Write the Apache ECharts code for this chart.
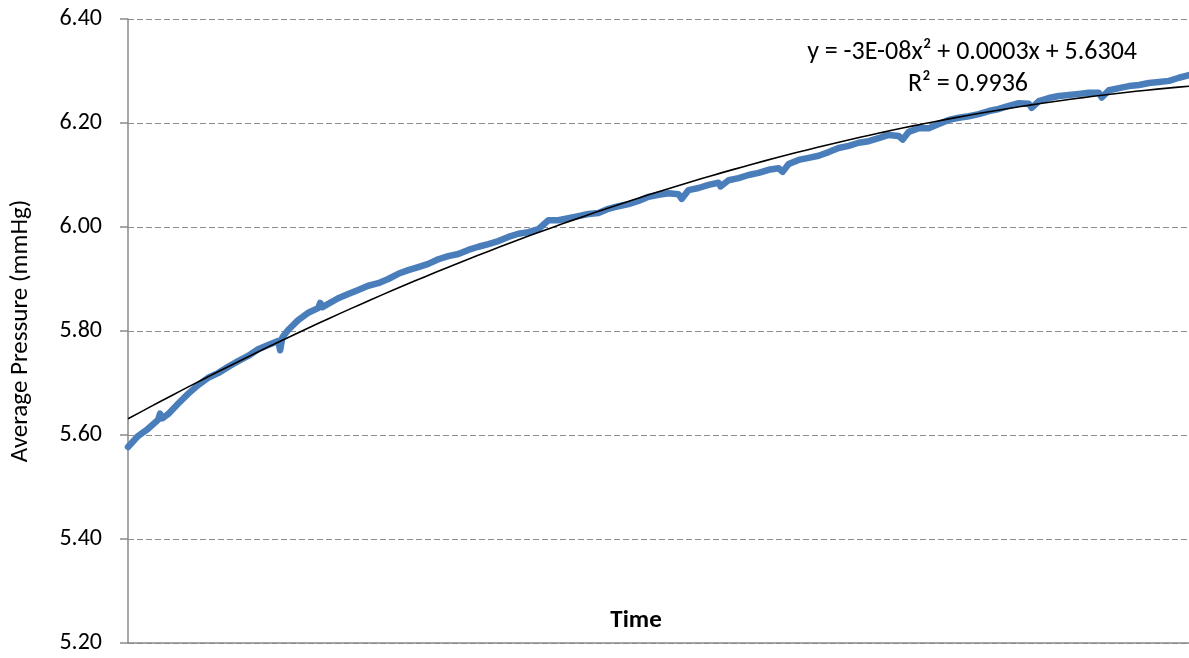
<!DOCTYPE html>
<html>
<head>
<meta charset="utf-8">
<script src="https://cdn.jsdelivr.net/npm/echarts@6/dist/echarts.min.js"></script>
<style>
  html, body { margin: 0; padding: 0; background: #fff; }
  #chart { width: 1189px; height: 658px; }
</style>
</head>
<body>
<div id="chart"></div>
<script>
// Elapsed time of each sample (arbitrary time units)
const times = [
  0, 35, 70, 105, 112, 120, 140, 175, 210, 245, 280, 315, 350, 385, 420, 455, 490, 525, 532, 540, 560, 595,
  630, 665, 672, 680, 700, 735, 770, 805, 840, 875, 910, 945, 980, 1015, 1050, 1085,
  1120, 1155, 1190, 1225, 1260, 1295, 1330, 1365, 1400, 1435, 1470, 1505, 1540, 1575,
  1610, 1645, 1680, 1715, 1750, 1785, 1820, 1855, 1890, 1925, 1936, 1960, 1995, 2030, 2065, 2072,
  2100, 2135, 2170, 2205, 2240, 2275, 2289, 2310, 2345, 2380, 2415, 2450, 2485, 2520,
  2555, 2590, 2625, 2660, 2695, 2709, 2730, 2765, 2800, 2835, 2870, 2905, 2940, 2975,
  3010, 3045, 3080, 3115, 3150, 3160, 3185, 3220, 3255, 3290, 3325, 3360, 3395, 3405,
  3430, 3465, 3500, 3535, 3570, 3605, 3640, 3675, 3710
];

// Average pressure at each sample (mmHg)
const pressure = [
  5.577, 5.598, 5.612, 5.629, 5.641, 5.632, 5.640, 5.660, 5.679, 5.696, 5.710, 5.719, 5.731, 5.742, 5.752, 5.765, 5.773, 5.781, 5.763, 5.788, 5.802, 5.821,
  5.835, 5.844, 5.854, 5.846, 5.852, 5.863, 5.871, 5.879, 5.887, 5.892, 5.900, 5.910, 5.917, 5.923, 5.929, 5.938,
  5.944, 5.948, 5.956, 5.962, 5.967, 5.973, 5.981, 5.987, 5.990, 5.996, 6.013, 6.013, 6.017, 6.021,
  6.025, 6.027, 6.035, 6.040, 6.044, 6.050, 6.058, 6.062, 6.065, 6.063, 6.054, 6.071, 6.075, 6.081, 6.085, 6.078,
  6.090, 6.094, 6.100, 6.104, 6.110, 6.113, 6.106, 6.121, 6.129, 6.133, 6.137, 6.144, 6.152, 6.156,
  6.162, 6.165, 6.171, 6.177, 6.175, 6.168, 6.183, 6.190, 6.190, 6.198, 6.206, 6.210, 6.213, 6.217,
  6.223, 6.227, 6.233, 6.238, 6.237, 6.229, 6.242, 6.248, 6.252, 6.254, 6.256, 6.258, 6.258, 6.249,
  6.263, 6.267, 6.271, 6.273, 6.277, 6.279, 6.281, 6.287, 6.292
];

// Y-axis ticks
const yTicks = [5.20, 5.40, 5.60, 5.80, 6.00, 6.20, 6.40];

const equationText = 'y = -3E-08x\u00B2 + 0.0003x + 5.6304';
const rSquaredText = 'R\u00B2 = 0.9936';
const xTitle = 'Time';
const yTitle = 'Average Pressure (mmHg)';

// Least-squares quadratic fit of pressure against time (polynomial trendline)
function quadFit(xs, ys) {
  const n = xs.length;
  const s = [0, 0, 0, 0, 0], t = [0, 0, 0];
  for (let i = 0; i < n; i++) {
    const x = xs[i], y = ys[i];
    let p = 1;
    for (let k = 0; k < 5; k++) { s[k] += p; if (k < 3) t[k] += p * y; p *= x; }
  }
  const M = [[s[0], s[1], s[2], t[0]], [s[1], s[2], s[3], t[1]], [s[2], s[3], s[4], t[2]]];
  for (let i = 0; i < 3; i++) {
    for (let j = i + 1; j < 3; j++) {
      const f = M[j][i] / M[i][i];
      for (let k = i; k < 4; k++) M[j][k] -= f * M[i][k];
    }
  }
  const r = [0, 0, 0];
  for (let i = 2; i >= 0; i--) {
    let v = M[i][3];
    for (let k = i + 1; k < 3; k++) v -= M[i][k] * r[k];
    r[i] = v / M[i][i];
  }
  return r; // [c, b, a]
}

const [c0, c1, c2] = quadFit(times, pressure);
const xMax = times[times.length - 1];
const trend = [];
for (let i = 0; i <= 100; i++) {
  const x = xMax * i / 100;
  trend.push([x, c0 + c1 * x + c2 * x * x]);
}

const FONT = 'Carlito, Lato, "Open Sans", sans-serif';
const chart = echarts.init(document.getElementById('chart'), null, { renderer: 'canvas' });

chart.setOption({
  animation: false,
  backgroundColor: '#ffffff',
  grid: { left: 128, right: 0, top: 19, bottom: 15, containLabel: false },
  xAxis: {
    type: 'value',
    min: 0,
    max: xMax,
    axisLabel: { show: false },
    axisTick: { show: false },
    splitLine: { show: false },
    axisLine: { show: true, lineStyle: { color: '#8a8a8a', width: 1.5 } }
  },
  yAxis: {
    type: 'value',
    min: yTicks[0],
    max: yTicks[yTicks.length - 1],
    interval: 0.2,
    axisLine: { show: true, lineStyle: { color: '#8a8a8a', width: 1.5 } },
    axisTick: { show: true, inside: false, length: 8, lineStyle: { color: '#8a8a8a', width: 1.5 } },
    axisLabel: {
      margin: 26,
      color: '#000',
      fontFamily: FONT,
      fontSize: 24,
      formatter: v => v.toFixed(2)
    },
    splitLine: { show: true, lineStyle: { color: '#8c8c8c', width: 1.2, type: [6, 3] } }
  },
  graphic: [
    {
      type: 'text', x: 636, y: 621,
      style: { text: xTitle, font: 'bold 25px ' + FONT, fill: '#000', textAlign: 'center', textVerticalAlign: 'middle' }
    },
    {
      type: 'text', x: 21, y: 331, rotation: Math.PI / 2,
      style: { text: yTitle, font: '25px ' + FONT, fill: '#000', textAlign: 'center', textVerticalAlign: 'middle' }
    },
    {
      type: 'text', x: 1137, y: 52,
      style: { text: equationText, font: '26px ' + FONT, fill: '#000', textAlign: 'right', textVerticalAlign: 'middle' }
    },
    {
      type: 'text', x: 968, y: 84,
      style: { text: rSquaredText, font: '26px ' + FONT, fill: '#000', textAlign: 'center', textVerticalAlign: 'middle' }
    }
  ],
  series: [
    {
      name: 'Average Pressure',
      type: 'line',
      data: times.map((t, i) => [t, pressure[i]]),
      showSymbol: false,
      symbol: 'none',
      lineStyle: { color: '#4A7EBB', width: 6.5, join: 'round', cap: 'round' },
      z: 2
    },
    {
      name: 'Poly. (Average Pressure)',
      type: 'line',
      data: trend,
      showSymbol: false,
      symbol: 'none',
      lineStyle: { color: '#000', width: 1.6 },
      z: 3
    }
  ]
});
</script>
</body>
</html>
